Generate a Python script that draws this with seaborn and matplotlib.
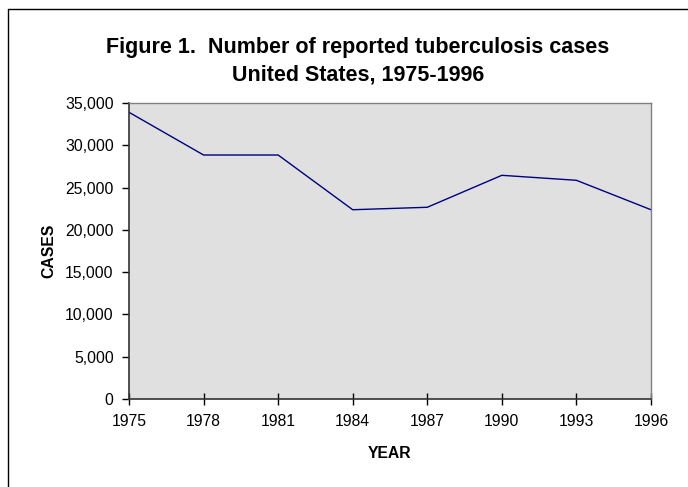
import matplotlib
matplotlib.use("Agg")
import matplotlib.pyplot as plt
import seaborn as sns
import pandas as pd
from matplotlib.lines import Line2D
from matplotlib.ticker import FuncFormatter

years = [1975, 1978, 1981, 1984, 1987, 1990, 1993, 1996]
cases = [33900, 28850, 28850, 22380, 22670, 26450, 25860, 22380]
yticks = [0, 5000, 10000, 15000, 20000, 25000, 30000, 35000]

df = pd.DataFrame({"YEAR": years, "CASES": cases})

sns.set_theme(style="white")
plt.rcParams['font.family'] = ['Liberation Sans', 'DejaVu Sans']
plt.rcParams['text.color'] = 'black'
plt.rcParams['axes.labelcolor'] = 'black'

fig = plt.figure(figsize=(6.88, 4.87), dpi=100)
fig.patch.set_facecolor("white")
ax = fig.add_axes([129/688, 1-399/487, (651-129)/688, (399-103)/487])
ax.set_facecolor("#e0e0e0")

sns.lineplot(data=df, x="YEAR", y="CASES", ax=ax, color="#000080", linewidth=1.0)

ax.set_xlim(years[0], years[-1])
ax.set_ylim(0, 35000)
ax.set_xticks(years)
ax.set_xticklabels([str(y) for y in years])
ax.set_yticks(yticks)
ax.yaxis.set_major_formatter(FuncFormatter(lambda v, p: f"{int(v):,}"))

for s in ["top", "right"]:
    ax.spines[s].set_color("#808080")
    ax.spines[s].set_linewidth(1.0)
for s in ["left", "bottom"]:
    ax.spines[s].set_color("#333333")
    ax.spines[s].set_linewidth(1.2)

ax.tick_params(axis="y", direction="out", length=5, width=1, color="black",
               labelsize=11.3, labelcolor="black", pad=6, left=True)
ax.tick_params(axis="x", direction="inout", length=8, width=1, color="black",
               labelsize=11.3, labelcolor="black", pad=7, bottom=True)

ax.set_xlabel("YEAR", fontsize=11.3, fontweight="bold", labelpad=12)
ax.set_ylabel("CASES", fontsize=11.3, fontweight="bold", labelpad=6)

fig.text(358/688, 1-48/487, "Figure 1.  Number of reported tuberculosis cases",
         ha="center", va="center", fontsize=15.5, fontweight="bold")
fig.text(358/688, 1-75/487, "United States, 1975-1996",
         ha="center", va="center", fontsize=15.5, fontweight="bold")

# outer frame (left and top edges visible)
fig.add_artist(Line2D([8/688, 8/688], [0, 1-9/487], transform=fig.transFigure,
                      color="black", linewidth=1.0))
fig.add_artist(Line2D([8/688, 1], [1-9/487, 1-9/487], transform=fig.transFigure,
                      color="black", linewidth=1.0))

fig.savefig("out.png", dpi=100, facecolor="white")
